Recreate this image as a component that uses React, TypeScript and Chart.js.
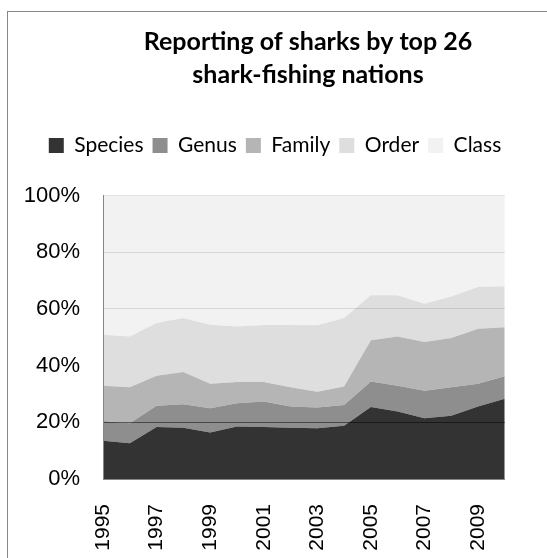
import React, { useEffect, useRef } from 'react';
import { Chart, registerables } from 'chart.js';

Chart.register(...registerables);

const years = ['1995', '1996', '1997', '1998', '1999', '2000', '2001', '2002', '2003', '2004', '2005', '2006', '2007', '2008', '2009', '2010'];
const species = [13.5, 12.6, 18.3, 18.1, 16.4, 18.5, 18.3, 18.1, 17.9, 18.8, 25.4, 23.8, 21.4, 22.3, 25.6, 28.3];
const genus = [7.0, 7.1, 7.5, 8.3, 8.6, 8.2, 9.0, 7.5, 7.3, 7.3, 9.0, 9.1, 9.7, 10.1, 8.0, 7.9];
const family = [12.4, 12.7, 10.6, 11.3, 8.6, 7.5, 6.9, 6.8, 5.6, 6.5, 14.5, 17.4, 17.2, 17.3, 19.4, 17.3];
const order = [18.0, 17.9, 18.6, 19.1, 20.8, 19.6, 20.1, 21.9, 23.4, 24.2, 15.9, 14.5, 13.5, 14.7, 14.7, 14.5];
const klass = [49.1, 49.7, 45.0, 43.2, 45.6, 46.2, 45.7, 45.7, 45.8, 43.2, 35.2, 35.2, 38.2, 35.6, 32.3, 32.0];
const yTicks = [0, 20, 40, 60, 80, 100];
const titleLines = ['Reporting of sharks by top 26', 'shark-fishing nations'];

export default function App() {
  const ref = useRef<HTMLCanvasElement>(null);

  useEffect(() => {
    const shiftTitle = {
      id: 'shiftTitle',
      afterUpdate(chart: any) {
        const t = chart.titleBlock;
        if (t) {
          t.left += 33;
          t.right += 33;
        }
      },
    };
    const chart = new Chart(ref.current as HTMLCanvasElement, {
      type: 'line',
      data: {
        labels: years,
        datasets: [
          { label: 'Species', data: species, backgroundColor: '#333333', borderColor: '#333333', fill: 'origin' },
          { label: 'Genus', data: genus, backgroundColor: '#8e8e8e', borderColor: '#8e8e8e', fill: '-1' },
          { label: 'Family', data: family, backgroundColor: '#b5b5b5', borderColor: '#b5b5b5', fill: '-1' },
          { label: 'Order', data: order, backgroundColor: '#dedede', borderColor: '#dedede', fill: '-1' },
          { label: 'Class', data: klass, backgroundColor: '#f2f2f2', borderColor: '#f2f2f2', fill: '-1' },
        ],
      },
      options: {
        animation: false,
        responsive: false,
        elements: {
          point: { radius: 0, hoverRadius: 0 },
          line: { borderWidth: 0, tension: 0 },
        },
        layout: { padding: { left: 15, right: 12, top: 0, bottom: 0 } },
        plugins: {
          title: {
            display: true,
            text: titleLines,
            color: '#000000',
            font: { family: 'Lato', size: 25, weight: 'bold', lineHeight: 33 / 25 },
            padding: { top: 25, bottom: 35 },
          },
          subtitle: {
            display: true,
            text: '',
            weight: 500,
            font: { size: 10, lineHeight: 1 },
            padding: { top: 0, bottom: 19.5 },
          },
          legend: {
            display: true,
            position: 'top',
            weight: 1800,
            labels: {
              color: '#000000',
              font: { family: 'Lato', size: 21 },
              boxWidth: 15,
              boxHeight: 15,
              padding: 9,
            },
          },
          tooltip: { enabled: false },
        },
        scales: {
          x: {
            grid: { display: false },
            border: { display: true, color: '#868686', z: 2 },
            ticks: {
              autoSkip: false,
              minRotation: 90,
              maxRotation: 90,
              padding: 17,
              color: '#000000',
              font: { family: 'Liberation Sans', size: 21 },
              callback: (_v: any, i: number) => (i % 2 === 0 ? years[i] : ''),
            },
            afterFit: (s: any) => {
              s.height = 79;
            },
          },
          y: {
            stacked: true,
            min: 0,
            max: 100,
            afterBuildTicks: (s: any) => {
              s.ticks = yTicks.map((v) => ({ value: v }));
            },
            ticks: {
              padding: 23,
              color: '#000000',
              font: { family: 'Liberation Sans', size: 22 },
              callback: (v: any) => v + '%',
            },
            grid: {
              drawTicks: false,
              z: 1,
              color: (c: any) => {
                const v = c.tick ? c.tick.value : 0;
                if (v === 20) return 'rgba(0,0,0,0.5)';
                if (v === 40) return 'rgba(0,0,0,0)';
                return 'rgba(0,0,0,0.11)';
              },
            },
            border: { display: true, color: '#868686', z: 2 },
            afterFit: (s: any) => {
              s.width = 88;
            },
          },
        },
      },
      plugins: [shiftTitle],
    });
    return () => chart.destroy();
  }, []);

  return (
    <div style={{ position: 'fixed', left: 0, top: 0, width: 547, height: 558, overflow: 'hidden', background: '#ffffff' }}>
      <div style={{ position: 'absolute', left: 7, top: 11, width: 700, height: 700, border: '1px solid #878787' }} />
      <canvas ref={ref} width={547} height={558} style={{ position: 'absolute', left: 0, top: 0 }} />
    </div>
  );
}
